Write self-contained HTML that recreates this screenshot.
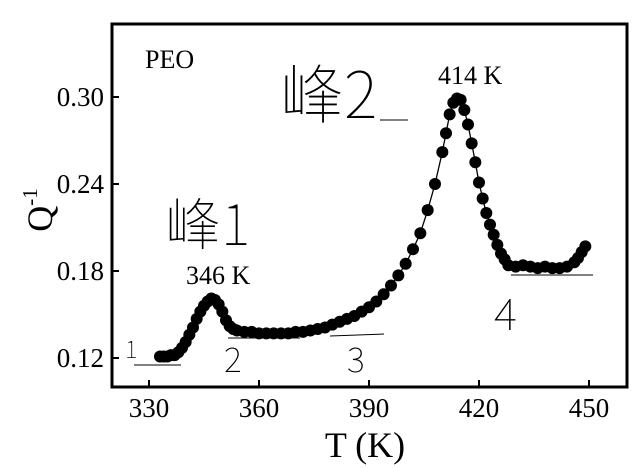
<!DOCTYPE html>
<html><head><meta charset="utf-8"><style>
body{margin:0;background:#fff}
svg{display:block;font-family:"Liberation Serif","Noto Serif CJK SC",serif}
</style></head><body>
<svg width="637" height="468" id="c">
<rect x="112" y="24" width="515" height="363" fill="none" stroke="#000" stroke-width="3"/>
<g id="ticks"></g>
<path id="line" fill="none" stroke="#000" stroke-width="1.3"/>
<g id="pts"></g>
<text x="145" y="68" font-size="26">PEO</text>
<text x="438" y="84" font-size="26">414 K</text>
<text x="186" y="284" font-size="26">346 K</text>
<text x="365" y="457" font-size="36" text-anchor="middle">T (K)</text>
<text transform="translate(52,210) rotate(-90)" font-size="36" text-anchor="middle">Q<tspan font-size="21" dy="-15">-1</tspan></text>
<g fill="none" stroke="#000" stroke-width="1">
<line x1="134" y1="365" x2="181" y2="365"/><line x1="228" y1="338" x2="300" y2="338"/>
<line x1="330" y1="336" x2="384" y2="334"/><line x1="511" y1="275" x2="593" y2="275"/>
<line x1="380" y1="120" x2="408" y2="120"/>
</g>
<g font-family="'Noto Sans CJK SC',sans-serif" font-weight="100" fill="#000">
<text x="280" y="118" font-size="64">峰2</text>
<text x="165" y="245" font-size="56">峰1</text>
<text x="125" y="358" font-size="24">1</text>
<text x="224" y="372" font-size="34">2</text>
<text x="347" y="372" font-size="34">3</text>
<text x="494" y="330" font-size="44">4</text>
</g>
</svg>
<script>
const temps=[333,334,335,336,337,338,339,340,341,342,343,344,345,346,347,348,349,350,351,352,353,354,356,358,360,362,364,366,368,370,372,374,376,378,380,382,384,386,388,390,392,394,396,398,400,402,404,406,408,410,411,412,413,414,415,416,417,418,419,420,421,422,423,424,425,426,427,428,430,432,434,436,438,440,442,444,446,447,448,449];
const qvals=[0.121,0.121,0.121,0.122,0.122,0.124,0.127,0.131,0.136,0.141,0.147,0.152,0.156,0.159,0.161,0.160,0.157,0.152,0.146,0.142,0.140,0.139,0.138,0.138,0.137,0.137,0.137,0.137,0.137,0.138,0.138,0.139,0.140,0.141,0.143,0.145,0.147,0.149,0.152,0.155,0.159,0.164,0.170,0.177,0.185,0.195,0.206,0.222,0.240,0.262,0.275,0.288,0.296,0.299,0.298,0.291,0.281,0.268,0.255,0.241,0.230,0.220,0.212,0.205,0.198,0.192,0.188,0.184,0.183,0.184,0.183,0.182,0.183,0.182,0.182,0.183,0.186,0.189,0.193,0.197];
const xTicks=[330,360,390,420,450];
const yTicks=[0.12,0.18,0.24,0.30];
const xs=t=>149+(t-330)*110/30;
const ys=v=>358-(v-0.12)*1450;
const NS='http://www.w3.org/2000/svg';
const tg=document.getElementById('ticks');
function mk(tag,at,par){const e=document.createElementNS(NS,tag);for(const k in at)e.setAttribute(k,at[k]);par.appendChild(e);return e;}
xTicks.forEach(t=>{const x=xs(t);
 const l=mk('line',{x1:x,y1:387,x2:x,y2:380,stroke:'#000','stroke-width':2},tg);
 
 
 const s=mk('text',{x:x,y:417,'font-size':27,'text-anchor':'middle'},tg);s.textContent=t;
 
 });
yTicks.forEach(v=>{const y=ys(v);
 const l=mk('line',{x1:112,y1:y,x2:119,y2:y,stroke:'#000','stroke-width':2},tg);
 
 
 const s=mk('text',{x:104,y:y+9,'font-size':27,'text-anchor':'end'},tg);s.textContent=v.toFixed(2);
 
 });
document.getElementById('line').setAttribute('d',temps.map((t,i)=>(i?'L':'M')+xs(t).toFixed(1)+','+ys(qvals[i]).toFixed(1)).join(''));
const pg=document.getElementById('pts');
temps.forEach((t,i)=>{const c=mk('circle',{cx:xs(t),cy:ys(qvals[i]),r:6,fill:'#000'},pg);
 
 });
</script>
</body></html>
